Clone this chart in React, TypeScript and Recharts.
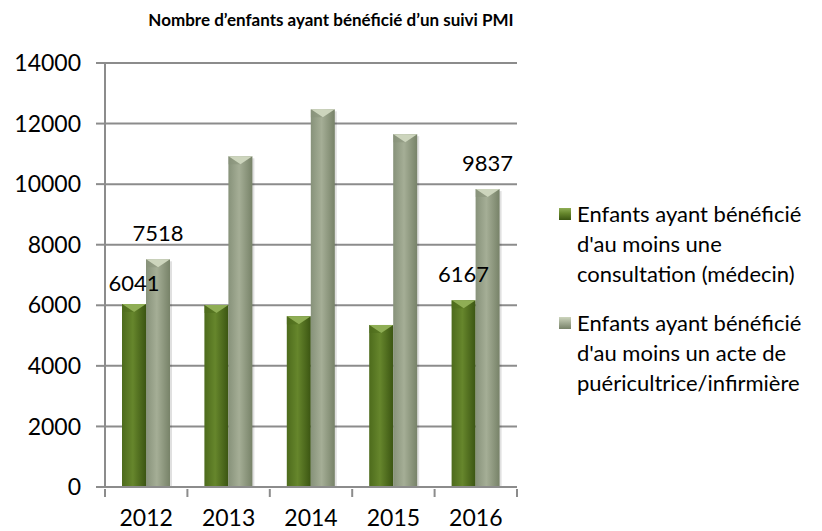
import * as React from "react";
import { Bar, BarChart, CartesianGrid, LabelList, XAxis, YAxis } from "recharts";

// données
const years = ["2012", "2013", "2014", "2015", "2016"];
const consultations = [6041, 6010, 5640, 5350, 6167];
const actes = [7518, 10920, 12470, 11650, 9837];
const yTicks = [0, 2000, 4000, 6000, 8000, 10000, 12000, 14000];
const seriesNames = [
  "Enfants ayant bénéficié d'au moins une consultation (médecin)",
  "Enfants ayant bénéficié d'au moins un acte de puéricultrice/infirmière",
];
const legendLines = [
  ["Enfants ayant bénéficié", "d'au moins une", "consultation (médecin)"],
  ["Enfants ayant bénéficié", "d'au moins un acte de", "puéricultrice/infirmière"],
];
// seules 2012 et 2016 ont une étiquette
const shownLabels = [0, 4];

const W = 806;
const H = 523;
const M = { top: 55, right: 297, bottom: 8, left: 0 };
const Y_W = 97;
const BAND = (W - M.left - M.right - Y_W) / years.length;
const FONT = "Lato, 'Open Sans', sans-serif";
const GRID = "#8c8c8c";

const data = years.map((y, i) => ({ year: y, a: consultations[i], b: actes[i] }));

const KEYS = ["a", "b"] as const;
const PAL = {
  a: { l: "#4d6b1c", m: "#66862c", r: "#3b5512", top: "#8fae55" },
  b: { l: "#87927a", m: "#a5ae96", r: "#778268", top: "#cdd5bd" },
};

function bevelBar(key: "a" | "b") {
  return (props: any) => {
    const { x, y, width, height } = props;
    if (!height || height <= 0) return null;
    const c = PAL[key];
    const bv = Math.min(8, height);
    return (
      <g>
        <rect x={x + 2} y={y + 2} width={width} height={height - 2} fill="#000" opacity={0.12} />
        <rect x={x} y={y} width={width} height={height} fill={`url(#grad-${key})`} />
        <polygon points={`${x},${y} ${x + width},${y} ${x + width / 2},${y + bv}`} fill={c.top} />
        <polygon points={`${x},${y} ${x + width / 2},${y + bv} ${x},${y + bv}`} fill={c.l} opacity={0.5} />
      </g>
    );
  };
}

function valueLabel(props: any) {
  const { x, y, width, value, index } = props;
  if (!shownLabels.includes(index)) return null;
  const up = value === 6041 ? 22 : 27;
  return (
    <text
      x={x + width / 2}
      y={y - up}
      textAnchor="middle"
      dominantBaseline="central"
      fontFamily={FONT}
      fontSize={22}
      fill="#000"
    >
      {value}
    </text>
  );
}

function YearTick(props: any) {
  const { x, y, payload, index } = props;
  return (
    <g>
      <line x1={x - BAND / 2} x2={x - BAND / 2} y1={y} y2={y + 8} stroke={GRID} strokeWidth={2} />
      {index === years.length - 1 && (
        <line x1={x + BAND / 2} x2={x + BAND / 2} y1={y} y2={y + 8} stroke={GRID} strokeWidth={2} />
      )}
      <text
        x={x}
        y={y + 28}
        textAnchor="middle"
        dominantBaseline="central"
        fontFamily={FONT}
        fontSize={23}
        fill="#000"
      >
        {payload.value}
      </text>
    </g>
  );
}

function LegendBox() {
  return (
    <div
      style={{
        position: "absolute",
        left: 551,
        top: 191,
        fontFamily: FONT,
        fontSize: 22,
        color: "#000",
      }}
    >
      {KEYS.map((k, i) => {
        const c = PAL[k];
        return (
          <div
            key={k}
            title={seriesNames[i]}
            style={{ position: "relative", paddingLeft: 18, marginBottom: i === 0 ? 19 : 0 }}
          >
            <span
              style={{
                position: "absolute",
                left: 0,
                top: 9,
                width: 12,
                height: 12,
                background: `linear-gradient(to bottom, ${c.top}, ${c.m} 45%, ${c.r})`,
              }}
            />
            {legendLines[i].map((t) => (
              <div key={t} style={{ lineHeight: "30px", whiteSpace: "nowrap" }}>
                {t}
              </div>
            ))}
          </div>
        );
      })}
    </div>
  );
}

export default function App() {
  return (
    <div style={{ position: "fixed", left: 0, top: 0, width: 822, height: 531, overflow: "hidden", background: "#fff" }}>
      <div style={{ position: "absolute", left: 8, top: 8, width: W, height: H, fontFamily: FONT }}>
        <div
          style={{
            position: "absolute",
            left: 73,
            top: 1,
            width: 500,
            textAlign: "center",
            fontWeight: 700,
            fontSize: 17,
            lineHeight: "22px",
          }}
        >
          Nombre d’enfants ayant bénéficié d’un suivi PMI
        </div>
        <BarChart width={W} height={H} data={data} margin={M} barSize={24} barGap={0}>
          <defs>
            {KEYS.map((k) => (
              <linearGradient key={k} id={`grad-${k}`} x1="0" y1="0" x2="1" y2="0">
                <stop offset="0%" stopColor={PAL[k].l} />
                <stop offset="45%" stopColor={PAL[k].m} />
                <stop offset="100%" stopColor={PAL[k].r} />
              </linearGradient>
            ))}
          </defs>
          <CartesianGrid vertical={false} stroke={GRID} strokeWidth={2} />
          <XAxis
            dataKey="year"
            axisLine={{ stroke: GRID, strokeWidth: 2 }}
            tickLine={false}
            tickSize={0}
            height={36}
            interval={0}
            tick={<YearTick />}
          />
          <YAxis
            domain={[0, 14000]}
            ticks={yTicks}
            width={Y_W}
            axisLine={{ stroke: GRID, strokeWidth: 2 }}
            tickLine={{ stroke: GRID, strokeWidth: 2 }}
            tickSize={9}
            tickMargin={15}
            tick={{ fontFamily: FONT, fontSize: 23, fill: "#000" }}
          />
          <Bar dataKey="a" name={seriesNames[0]} shape={bevelBar("a")} isAnimationActive={false}>
            <LabelList dataKey="a" content={valueLabel} />
          </Bar>
          <Bar dataKey="b" name={seriesNames[1]} shape={bevelBar("b")} isAnimationActive={false}>
            <LabelList dataKey="b" content={valueLabel} />
          </Bar>
        </BarChart>
        <LegendBox />
      </div>
    </div>
  );
}
